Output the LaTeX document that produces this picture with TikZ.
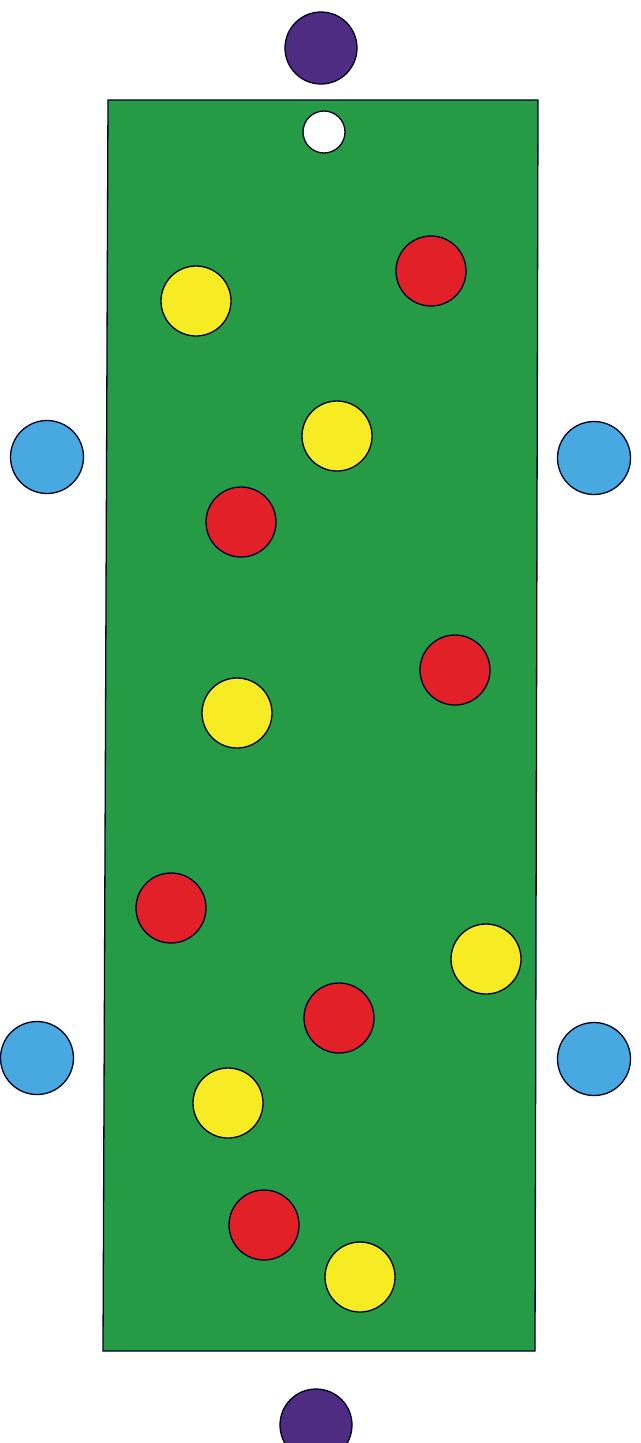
\documentclass[tikz,border=0pt]{standalone}
\definecolor{pitch}{RGB}{38,155,70}
\definecolor{ply}{RGB}{247,236,35}
\definecolor{plr}{RGB}{226,32,40}
\definecolor{plb}{RGB}{72,168,224}
\definecolor{plp}{RGB}{78,44,130}
\tikzset{
  disc/.style={circle,draw=black!85!blue,line width=1.3pt,inner sep=0pt,minimum size=70pt},
  yel/.style={disc,fill=ply},
  redd/.style={disc,fill=plr},
  blu/.style={disc,fill=plb,minimum size=73pt},
  pur/.style={disc,fill=plp,minimum size=72pt},
  wht/.style={disc,fill=white,minimum size=42pt},
}
\begin{document}
\begin{tikzpicture}[x=1pt,y=-1pt]
\useasboundingbox (0,0) rectangle (640,1443);
\fill[white] (0,0) rectangle (640,1443);
\draw[fill=pitch,line width=1.3pt,draw=black!85!blue] (108,100) -- (538,100) -- (535,1351) -- (103,1351) -- cycle;
\node[pur] (p1) at (321,48) {};
\node[pur] (p2) at (316,1425) {};
\node[wht] (w1) at (324,132) {};
\node[blu] (b1) at (47,457) {};
\node[blu] (b2) at (594,458) {};
\node[blu] (b3) at (37,1058) {};
\node[blu] (b4) at (594,1059) {};
\node[yel] (y1) at (196,301) {};
\node[yel] (y2) at (337,436) {};
\node[yel] (y3) at (237,713) {};
\node[yel] (y4) at (486,959) {};
\node[yel] (y5) at (228,1103) {};
\node[yel] (y6) at (360,1277) {};
\node[redd] (r1) at (431,271) {};
\node[redd] (r2) at (241,522) {};
\node[redd] (r3) at (455,670) {};
\node[redd] (r4) at (171,908) {};
\node[redd] (r5) at (339,1018) {};
\node[redd] (r6) at (264,1225) {};
\end{tikzpicture}
\end{document}
